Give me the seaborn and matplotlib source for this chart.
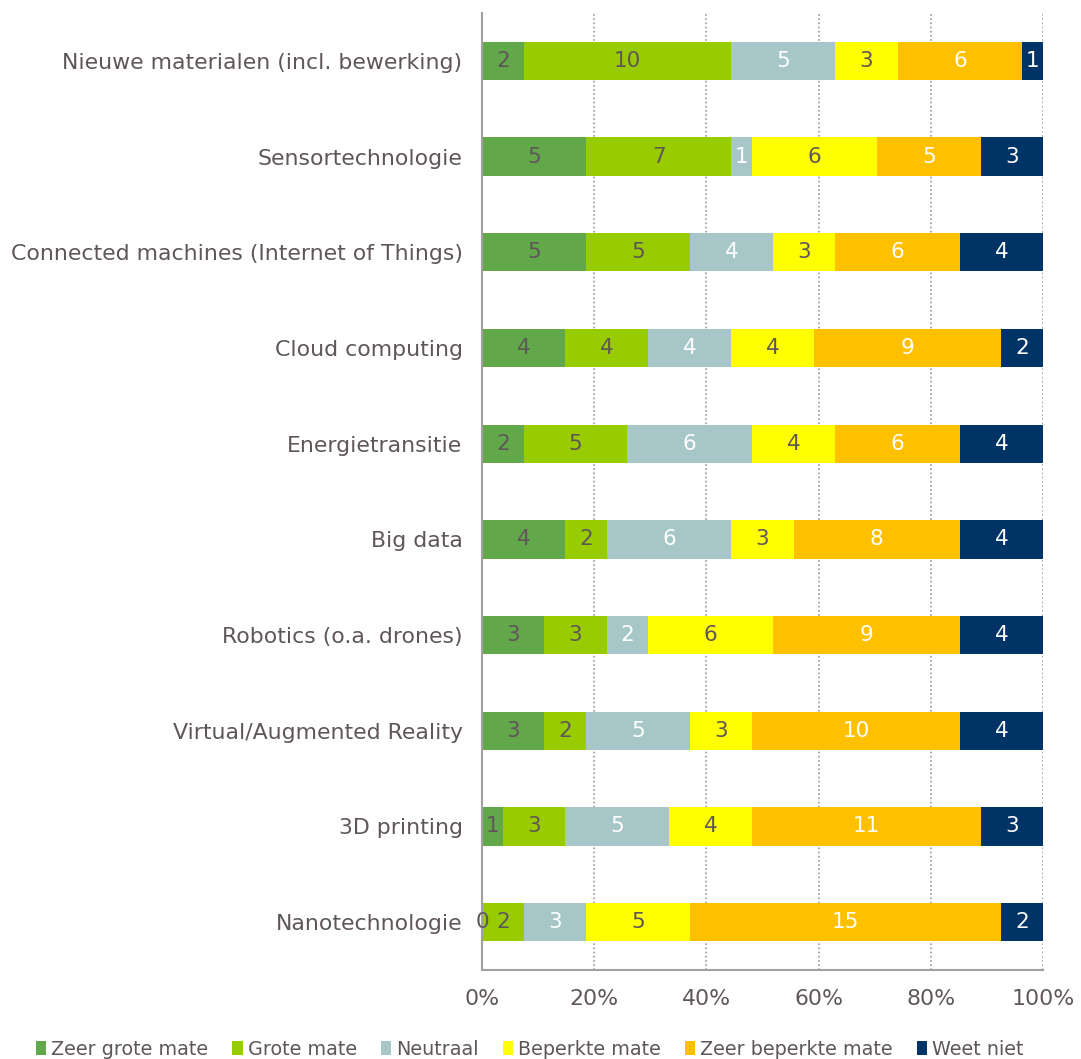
import numpy as np
import pandas as pd
import matplotlib
matplotlib.use("Agg")
import matplotlib.pyplot as plt
import seaborn as sns
from matplotlib.patches import Patch
from matplotlib.ticker import FixedLocator, PercentFormatter

categories = [
    "Nieuwe materialen (incl. bewerking)",
    "Sensortechnologie",
    "Connected machines (Internet of Things)",
    "Cloud computing",
    "Energietransitie",
    "Big data",
    "Robotics (o.a. drones)",
    "Virtual/Augmented Reality",
    "3D printing",
    "Nanotechnologie",
]
series_names = ["Zeer grote mate", "Grote mate", "Neutraal", "Beperkte mate",
                "Zeer beperkte mate", "Weet niet"]
zeer_grote = [2, 5, 5, 4, 2, 4, 3, 3, 1, 0]
grote = [10, 7, 5, 4, 5, 2, 3, 2, 3, 2]
neutraal = [5, 1, 4, 4, 6, 6, 2, 5, 5, 3]
beperkte = [3, 6, 3, 4, 4, 3, 6, 3, 4, 5]
zeer_beperkte = [6, 5, 6, 9, 6, 8, 9, 10, 11, 15]
weet_niet = [1, 3, 4, 2, 4, 4, 4, 4, 3, 2]

colors = ["#62a84b", "#99cc00", "#a6c6c8", "#ffff00", "#ffc000", "#003366"]
label_colors = ["#5f5757", "#5f5757", "white", "#5f5757", "white", "white"]
text_color = "#5f5757"

counts = np.array([zeer_grote, grote, neutraal, beperkte, zeer_beperkte, weet_niet], dtype=float)
totals = counts.sum(axis=0)
pct = counts / totals * 100
cum = np.cumsum(pct, axis=0)

sns.set_theme(style="white")
plt.rcParams["font.family"] = ["DejaVu Sans"]

fig = plt.figure(figsize=(10.81, 10.59), dpi=100)
ax = fig.add_axes([0.4459, 0.0840, 0.5190, 0.9037])

# stacked bars: draw cumulative totals from the outermost series inward
for i in range(len(series_names) - 1, -1, -1):
    df = pd.DataFrame({"cat": categories, "val": cum[i]})
    sns.barplot(data=df, x="val", y="cat", orient="h", color=colors[i],
                saturation=1, width=0.40, ax=ax, linewidth=0, zorder=2)

# value labels
for i in range(len(series_names)):
    for j in range(len(categories)):
        start = cum[i][j] - pct[i][j]
        mid = start + pct[i][j] / 2
        ax.text(mid, j, f"{int(counts[i][j])}", ha="center", va="center",
                color=label_colors[i], fontsize=15.5, zorder=5)

ax.set_xlim(0, 100)
ax.set_ylim(len(categories) - 0.5, -0.5)
ax.xaxis.set_major_locator(FixedLocator([0, 20, 40, 60, 80, 100]))
ax.xaxis.set_major_formatter(PercentFormatter(decimals=0))
ax.set_xlabel("")
ax.set_ylabel("")

# gridlines
for xv in [20, 40, 60, 80, 100]:
    ax.axvline(xv, color="#9a9a9a", linestyle=(0, (1, 1.5)), linewidth=1.2, zorder=1)

for s in ["top", "right"]:
    ax.spines[s].set_visible(False)
for s in ["left", "bottom"]:
    ax.spines[s].set_color("#a0a0a0")
    ax.spines[s].set_linewidth(1.5)

ax.tick_params(axis="y", which="major", length=0, labelsize=15.8, labelcolor=text_color, pad=14)
ax.yaxis.set_minor_locator(FixedLocator(np.arange(-0.5, len(categories), 1.0)))
ax.tick_params(axis="y", which="minor", length=7, width=1.5, color="#a0a0a0", direction="out")
ax.tick_params(axis="x", which="major", length=6, width=1.5, color="#a0a0a0",
               direction="out", labelsize=15.8, labelcolor=text_color, pad=8)

handles = [Patch(facecolor=c, edgecolor="none") for c in colors]
fig.legend(handles, series_names, loc="lower center", bbox_to_anchor=(0.49, -0.016),
           ncol=6, frameon=False, fontsize=13.8, labelcolor=text_color,
           handlelength=0.55, handleheight=0.75, handletextpad=0.25, columnspacing=1.25)

fig.savefig("out.png", dpi=100)
